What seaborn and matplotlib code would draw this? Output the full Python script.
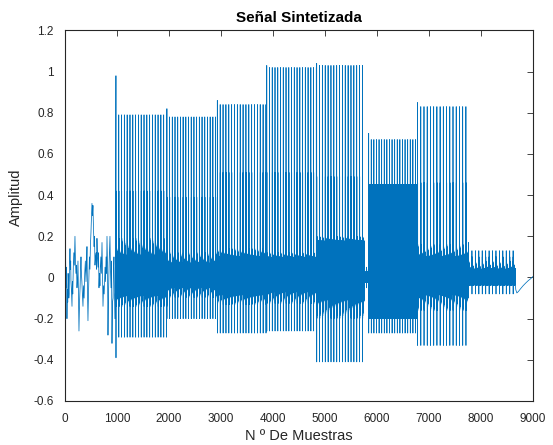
import numpy as np
import pandas as pd
import matplotlib
matplotlib.use("Agg")
import matplotlib.pyplot as plt
import seaborn as sns

# --- opening unvoiced stretch: sample positions and amplitudes of its turning points
intro_x = [0, 6, 12, 19, 25, 30, 38, 46, 53, 60, 68, 74, 80, 88, 96, 104, 110,
           115, 124, 135, 142, 150, 160, 170, 180, 192, 200, 210, 220, 231, 240,
           250, 260, 269, 280, 290, 300, 308, 316, 325, 335, 346, 356, 368, 380,
           392, 404, 414, 423, 432, 442, 452, 462, 470, 480, 490, 500, 510, 519,
           528, 538, 548, 560, 568, 577, 588, 600, 608, 615, 625, 635, 645, 654,
           664, 672, 680, 690, 700, 712, 722, 731, 742, 754, 770, 780, 790, 800,
           808, 818, 827, 836, 845, 855, 865, 875, 885, 895, 904, 914, 925, 933,
           942, 950, 960, 968, 975]
intro_y = [0.32, 0.22, 0.10, -0.05, 0.04, 0.05, -0.20, -0.06, -0.12, 0.02, -0.04,
           -0.10, -0.08, 0.06, 0.14, 0.04, 0.08, -0.02, -0.06, -0.14, -0.02, -0.08,
           0.05, 0.12, 0.06, 0.20, 0.10, 0.02, 0.06, -0.05, -0.01, 0.08, -0.10,
           -0.26, -0.12, -0.05, 0.04, 0.10, 0.02, -0.02, -0.08, -0.14, -0.04,
           -0.10, 0.02, 0.08, -0.02, 0.06, 0.15, -0.05, -0.21, -0.08, 0.02, 0.10,
           0.04, 0.16, 0.22, 0.30, 0.36, 0.30, 0.35, 0.24, 0.15, 0.20, 0.06, 0.10,
           0.12, 0.04, 0.19, 0.10, 0.05, 0.12, -0.05, 0.02, -0.04, 0.05, 0.10,
           0.02, 0.17, 0.02, -0.14, -0.04, -0.08, 0.05, -0.02, 0.10, 0.02, 0.20,
           0.06, -0.28, -0.10, 0.02, 0.12, 0.20, 0.04, -0.05, 0.08, -0.32, -0.12,
           -0.10, 0.04, 0.10, -0.04, -0.20, -0.08, -0.05]

# --- voiced stretches (pulse trains), one entry per stretch
seg_start   = [980, 1960, 2930, 3880, 4840, 5760, 5840, 6780, 7760]
seg_end     = [1960, 2930, 3880, 4840, 5760, 5840, 6780, 7760, 8660]
seg_period  = [54, 52, 55, 53, 55, 40, 50, 62, 66]
seg_onset   = [0.98, 0.82, 0.86, 1.03, 1.04, 0.05, 0.70, 0.85, 0.17]
seg_onset_lo = [-0.39, -0.20, -0.27, -0.26, -0.41, -0.05, -0.27, -0.33, -0.10]
seg_peak    = [0.79, 0.78, 0.84, 1.02, 1.03, 0.05, 0.67, 0.83, 0.13]
seg_trough  = [-0.29, -0.20, -0.27, -0.26, -0.41, -0.05, -0.27, -0.33, -0.08]
seg_level2  = [0.42, 0.39, 0.51, 0.51, 0.49, 0.04, 0.45, 0.46, 0.10]
seg_level3  = [0.19, 0.12, 0.14, 0.12, 0.20, 0.03, 0.45, 0.16, 0.08]
seg_band_hi = [0.08, 0.05, 0.09, 0.09, 0.17, 0.02, 0.45, 0.09, 0.035]
seg_band_lo = [-0.07, -0.03, -0.07, -0.05, -0.08, -0.02, -0.20, -0.07, -0.035]

# --- closing decay after the last pulse
tail_x = [8670, 8690, 8720, 8760, 8810, 8860, 8910, 8960, 9000]
tail_y = [-0.06, -0.075, -0.068, -0.055, -0.040, -0.027, -0.015, -0.005, 0.005]

xs = list(intro_x)
ys = list(intro_y)
for i in range(len(seg_start)):
    P = seg_period[i]
    first = True
    n0 = seg_start[i]
    while n0 < seg_end[i]:
        L = min(P, seg_end[i] - n0)
        if L < 5:
            break
        w = np.zeros(L)
        w[0] = seg_onset[i] if first else seg_peak[i]
        w[1] = seg_onset_lo[i] if first else seg_trough[i]
        w[2] = seg_level2[i]
        w[3] = seg_band_lo[i]
        lo_start = 0.5 * seg_trough[i]
        for k in range(4, L):
            d = np.exp(-(k - 4) / 18.0)
            if k % 2 == 0:
                w[k] = seg_band_hi[i] + (seg_level3[i] - seg_band_hi[i]) * d
            else:
                w[k] = seg_band_lo[i] + (min(lo_start, seg_band_lo[i]) - seg_band_lo[i]) * d
        xs.extend(range(n0, n0 + L))
        ys.extend(w.tolist())
        first = False
        n0 += L
xs.extend(tail_x)
ys.extend(tail_y)

df = pd.DataFrame({"n": xs, "amp": ys})

plt.rcParams["path.simplify"] = False
sns.set_style("white")
plt.rcParams["font.family"] = ["Liberation Sans", "DejaVu Sans"]

fig = plt.figure(figsize=(5.53, 4.45), dpi=100)
ax = fig.add_axes([0.1175, 0.0989, 0.8463, 0.8326])
sns.lineplot(data=df, x="n", y="amp", estimator=None, sort=False,
             color="#0072BD", linewidth=0.55, ax=ax)

ax.set_xlim(0, 9000)
ax.set_ylim(-0.6, 1.2)
xt = [0, 1000, 2000, 3000, 4000, 5000, 6000, 7000, 8000, 9000]
yt = [-0.6, -0.4, -0.2, 0, 0.2, 0.4, 0.6, 0.8, 1.0, 1.2]
ax.set_xticks(xt)
ax.set_xticklabels([str(v) for v in xt])
ax.set_yticks(yt)
ax.set_yticklabels(["-0.6", "-0.4", "-0.2", "0", "0.2", "0.4", "0.6", "0.8", "1", "1.2"])

dark = "#262626"
for s in ax.spines.values():
    s.set_visible(True)
    s.set_color(dark)
    s.set_linewidth(0.8)
ax.tick_params(direction="in", length=4, width=0.6, colors=dark, labelsize=8.5,
               top=True, right=True, labeltop=False, labelright=False)
ax.tick_params(axis="x", pad=9)
ax.tick_params(axis="y", pad=8)

ax.set_title("Señal Sintetizada", fontsize=11, fontweight="bold", color="black", pad=6)
ax.set_xlabel("N º De Muestras", fontsize=10.5, color=dark)
ax.set_ylabel("Amplitud", fontsize=10.5, color=dark)
ax.xaxis.set_label_coords(0.5, -0.075)
ax.yaxis.set_label_coords(-0.09, 0.55)

fig.savefig("out.png", dpi=100, facecolor="white")
